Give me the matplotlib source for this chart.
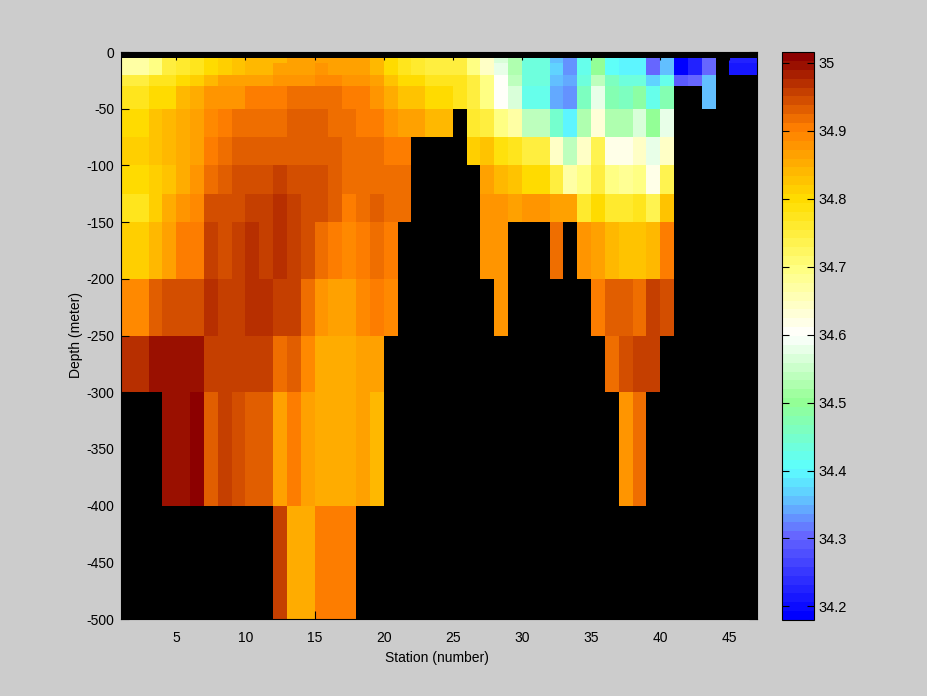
#!/usr/bin/env python

import numpy as np
import matplotlib
matplotlib.use('Agg')
import matplotlib.pyplot as plt
from matplotlib.colors import LinearSegmentedColormap

n = float('nan')

# salinity minus 34, one list per depth layer, stations 1..46
layer_5_10 = [.67, .67, .70, .75, .765, .78, .805, .815, .825, .835, .845, .845, .86, .86, .86, .86, .86, .86, .845, .80, .77, .765, .745,
              .745, .745, .70, .65, .56, .52, .44, .44, .36, .33, .42, .50, .41, .39, .39, .30, .36, .18, .225, .30, n, .225, .225]
layer_10_20 = [.67, .67, .70, .75, .765, .78, .805, .815, .825, .835, .845, .86, .86, .86, .875, .86, .86, .86, .845, .80, .77, .765, .745,
               .745, .745, .70, .65, .575, .53, .44, .44, .375, .33, .42, .50, .41, .39, .39, .31, .36, .18, .225, .30, n, .215, .215]
layer_20_30 = [.745, .745, .77, .78, .80, .815, .845, .86, .86, .87, .87, .88, .88, .88, .89, .89, .88, .88, .87, .825, .80, .80, .77,
               .77, .77, .75, .70, .60, .545, .44, .44, .36, .345, .44, .545, .46, .44, .44, .37, .42, .285, .30, .36, n, n, n]
layer_30_50 = [.78, .78, .80, .805, .835, .85, .875, .885, .885, .90, .90, .90, .915, .915, .915, .915, .90, .90, .88, .855, .825, .825, .80,
               .80, .77, .75, .70, .60, .56, .42, .42, .345, .33, .46, .575, .475, .46, .49, .42, .475, n, n, .36, n, n, n]
layer_50_75 = [.80, .80, .825, .835, .85, .86, .89, .90, .915, .915, .915, .915, .93, .93, .93, .915, .915, .90, .90, .875, .86, .86, .845,
               .845, n, .76, .75, .70, .665, .545, .545, .45, .40, .53, .63, .53, .53, .56, .50, .575] + [n] * 6
layer_75_100 = [.815, .815, .825, .835, .855, .865, .90, .915] + [.93] * 8 + [.915, .915, .915, .90, .90] + [n] * 4 + \
               [.815, .825, .785, .77, .745, .745, .64, .545, .65, .74, .62, .62, .65, .575, .65] + [n] * 6
layer_100_125 = [.80, .80, .815, .825, .855, .875, .915, .93, .945, .945, .945, .96, .945, .945, .945, .93, .915, .915, .915, .915, .915] + [n] * 5 + \
                [.86, .845, .825, .80, .80, .75, .665, .70, .75, .69, .68, .70, .62, .74] + [n] * 6
layer_125_150 = [.77, .77, .815, .85, .875, .89, .945, .945, .945, .96, .96, .975, .96, .945, .945, .93, .90, .915, .93, .915, .915] + [n] * 5 + \
                [.875, .875, .86, .875, .875, .865, .865, .76, .80, .76, .755, .77, .74, .825] + [n] * 6
layer_150_200 = [.815, .815, .845, .87, .90, .90, .96, .945, .96, .975, .96, .975, .96, .945, .915, .90, .89, .90, .915, .90] + [n] * 6 + \
                [.885, .885, n, n, n, .915, n, .885, .87, .835, .825, .825, .845, .90] + [n] * 6
layer_200_250 = [.89, .89, .93, .945, .945, .945, .975, .96, .96, .975, .975, .96, .96, .915, .875, .86, .86, .89, .90, .89] + [n] * 7 + \
                [.885] + [n] * 6 + [.90, .93, .93, .915, .96, .945] + [n] * 6
layer_250_300 = [.975, .975, .99, .99, .99, .99, .96, .96, .96, .96, .96, .915, .93, .89, .855, .855, .855, .87, .87] + [n] * 16 + \
                [.915, .945, .96, .96] + [n] * 7
layer_300_400 = [n, n, n, 1.0, 1.0, 1.015, .93, .96, .945, .93, .93, .86, .90, .87, .855, .855, .855, .86, .84] + [n] * 17 + \
                [.885, .915] + [n] * 8
layer_400_500 = [n] * 11 + [.96, .855, .855, .90, .90, .90] + [n] * 29

stations = np.arange(1, 48)
depths = [5, 10, 20, 30, 50, 75, 100, 125, 150, 200, 250, 300, 400, 500]
depth_ticks = [-500, -450, -400, -350, -300, -250, -200, -150, -100, -50, 0]
station_ticks = [5, 10, 15, 20, 25, 30, 35, 40, 45]
cbar_ticks = [34.2, 34.3, 34.4, 34.5, 34.6, 34.7, 34.8, 34.9, 35]
cbar_labels = ['34.2', '34.3', '34.4', '34.5', '34.6', '34.7', '34.8', '34.9', '35']

sal_min, sal_max = 34.18, 35.016
cmap_anchors = [
    (34.18, (0.0, 0.0, 1.0)),
    (34.30, (0.40, 0.40, 1.0)),
    (34.36, (0.38, 0.80, 1.0)),
    (34.40, (0.36, 1.0, 1.0)),
    (34.50, (0.58, 1.0, 0.58)),
    (34.60, (1.0, 1.0, 1.0)),
    (34.70, (1.0, 1.0, 0.50)),
    (34.80, (1.0, 0.87, 0.0)),
    (34.908, (1.0, 0.50, 0.0)),
    (35.016, (0.55, 0.0, 0.0)),
]

plt.rcParams['font.family'] = ['Liberation Sans', 'DejaVu Sans']
plt.rcParams['font.size'] = 10
plt.rcParams['axes.unicode_minus'] = False

salinity = 34 + np.array([
    layer_5_10, layer_10_20, layer_20_30, layer_30_50, layer_50_75,
    layer_75_100, layer_100_125, layer_125_150, layer_150_200,
    layer_200_250, layer_250_300, layer_300_400, layer_400_500,
])

cmap = LinearSegmentedColormap.from_list(
    'sal',
    [((v - sal_min) / (sal_max - sal_min), c) for v, c in cmap_anchors],
    N=64,
)

W, H = 928.0, 696.0
fig = plt.figure(figsize=(W / 100, H / 100), dpi=100, facecolor='#cccccc')
ax = fig.add_axes([121 / W, 1 - 619 / H, 636 / W, 567 / H])
ax.set_facecolor('black')

mesh = ax.pcolormesh(stations, -np.array(depths), np.ma.masked_invalid(salinity),
                     cmap=cmap, vmin=sal_min, vmax=sal_max, antialiased=False)
ax.set_xlim(1, 47)
ax.set_ylim(-500, 0)
ax.set_xticks(station_ticks)
ax.set_yticks(depth_ticks)
ax.tick_params(axis='x', direction='in', length=6, width=0.8, top=True, pad=9)
ax.tick_params(axis='y', direction='in', length=6, width=0.8, right=True, pad=5)
ax.set_xlabel('Station (number)', labelpad=4, x=0.497)
ax.set_ylabel('Depth (meter)', labelpad=2)

cax = fig.add_axes([782 / W, 1 - 620 / H, 32 / W, 568 / H])
cbar = fig.colorbar(mesh, cax=cax)
cbar.set_ticks(cbar_ticks)
cbar.set_ticklabels(cbar_labels, fontsize=10.5)
cax.tick_params(which='both', direction='in', length=5, width=0.8, left=True, right=True, pad=3)
cax.minorticks_off()
cbar.outline.set_linewidth(0.8)

fig.savefig('out.png', dpi=100, facecolor=fig.get_facecolor())
